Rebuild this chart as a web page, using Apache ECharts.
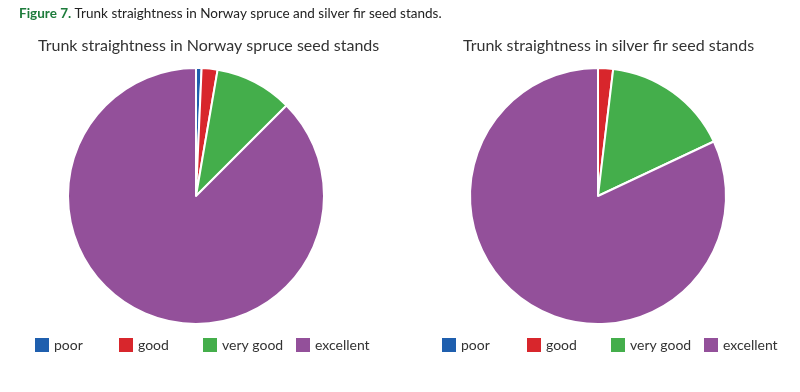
<!DOCTYPE html>
<html>
<head>
<meta charset="utf-8">
<script src="https://cdn.jsdelivr.net/npm/echarts@6/dist/echarts.min.js"></script>
<style>html,body{margin:0;padding:0;background:#fff}#c{width:800px;height:392px}</style>
</head>
<body>
<div id="c"></div>
<script>
const categories = ['poor', 'good', 'very good', 'excellent'];
const spruceValues = [0.7, 2.0, 9.8, 87.5];
const firValues = [0, 1.9, 16.1, 82.0];
const colors = ['#1f5fae', '#d8262c', '#44ae4b', '#93509a'];
const figureLabel = 'Figure 7.';
const figureCaption = ' Trunk straightness in Norway spruce and silver fir seed stands.';
const spruceTitle = 'Trunk straightness in Norway spruce seed stands';
const firTitle = 'Trunk straightness in silver fir seed stands';

const FONT = 'Lato, "Open Sans", sans-serif';
const chart = echarts.init(document.getElementById('c'));

function toData(vals) {
  return categories.map((c, i) => ({ name: c, value: vals[i] }));
}
const leftLegendX = [35, 119, 203, 296];
const rightLegendX = [442, 527, 611, 704];
const legends = [];
[leftLegendX, rightLegendX].forEach(xs => {
  xs.forEach((x, i) => {
    legends.push({
      data: [categories[i]], left: x, top: 338, itemWidth: 14, itemHeight: 14,
      itemGap: 0, selectedMode: false, icon: 'rect', padding: 0,
      itemStyle: { borderWidth: 0 },
      textStyle: { fontFamily: FONT, fontSize: 14, color: '#333', padding: [0, 0, 0, 0] }
    });
  });
});

chart.setOption({
  color: colors,
  animation: false,
  title: [
    {
      text: '{a|' + figureLabel + '}{b|' + figureCaption + '}', left: 19, top: 7, padding: 0,
      textStyle: { rich: {
        a: { fontFamily: FONT, fontSize: 13.5, fontWeight: 'bold', color: '#1e7c3c' },
        b: { fontFamily: FONT, fontSize: 13.5, fontWeight: 'normal', color: '#222' }
      } }
    },
    { text: spruceTitle, left: 38, top: 38, padding: 0, textStyle: { fontFamily: FONT, fontSize: 16, fontWeight: 'normal', color: '#333' } },
    { text: firTitle, left: 463, top: 38, padding: 0, textStyle: { fontFamily: FONT, fontSize: 16, fontWeight: 'normal', color: '#333' } }
  ],
  legend: legends,
  series: [
    {
      type: 'pie', center: [196, 196], radius: 128, startAngle: 90, clockwise: true,
      label: { show: false }, labelLine: { show: false }, silent: true,
      itemStyle: { borderColor: '#fff', borderWidth: 2 },
      data: toData(spruceValues)
    },
    {
      type: 'pie', center: [598, 196], radius: 128, startAngle: 90, clockwise: true,
      label: { show: false }, labelLine: { show: false }, silent: true,
      itemStyle: { borderColor: '#fff', borderWidth: 2 },
      data: toData(firValues)
    }
  ]
});
</script>
</body>
</html>
